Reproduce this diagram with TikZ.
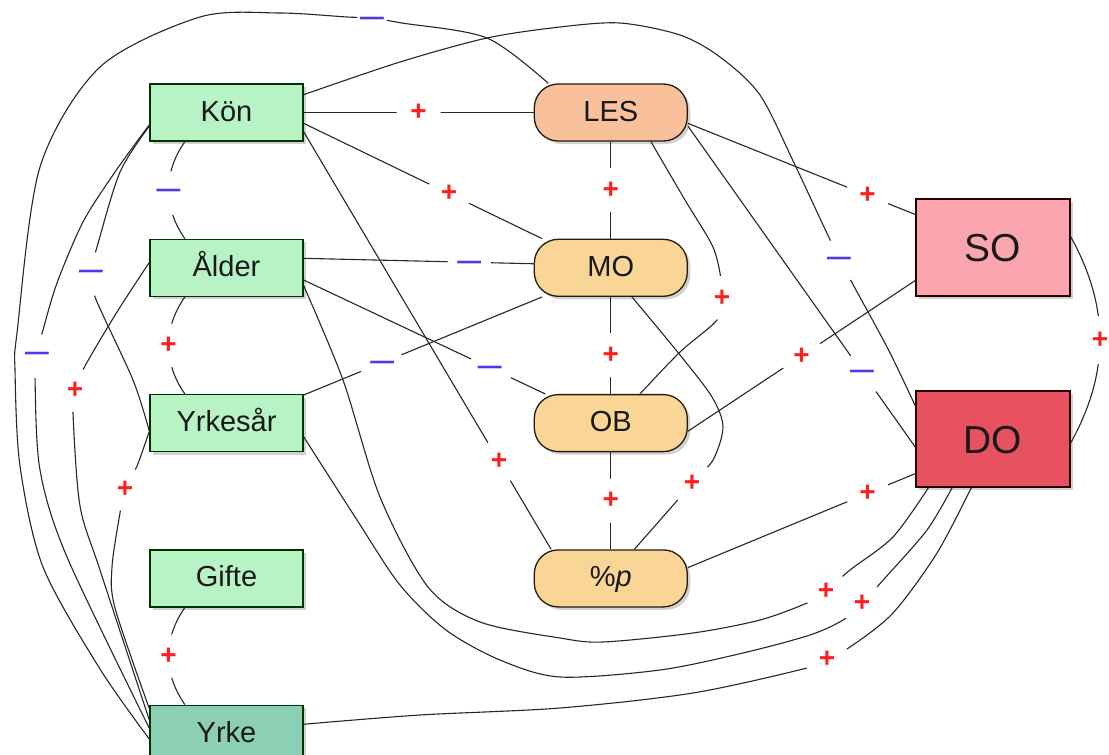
\documentclass[tikz,border=0pt]{standalone}
\usepackage{fontspec}
\usepackage{graphicx}
\setmainfont{Liberation Sans}
\usetikzlibrary{positioning,shadows}
\definecolor{facgreen}{HTML}{B8F3C6}
\definecolor{yrkegreen}{HTML}{8BCFB4}
\definecolor{lesorange}{HTML}{F9C09C}
\definecolor{medorange}{HTML}{F9D696}
\definecolor{sopink}{HTML}{FBA5AE}
\definecolor{dored}{HTML}{E8515F}
\definecolor{signred}{HTML}{FF1E1E}
\definecolor{signblue}{HTML}{4B3CE6}
\newcommand{\negbar}{\scalebox{1.85}[1]{–}}
\tikzset{
    every node/.style={font=\fontsize{29}{32}\selectfont},
    boxshadow/.style={drop shadow={shadow xshift=3pt,shadow yshift=-3pt,opacity=0.3,fill=black!60}},
    factor/.style={rectangle,draw=black!80!green,fill=facgreen,line width=1.3pt,minimum width=153pt,minimum height=57pt,inner sep=0pt,text height=20pt,text depth=3pt,text=black!90,boxshadow},
    mediator/.style={factor,rounded corners=24pt,draw=black!80!brown,fill=medorange},
    outcome/.style={factor,draw=black!85!red,minimum width=154pt,minimum height=97pt,text height=28pt,text depth=0pt,font=\fontsize{39}{42}\selectfont},
    link/.style={draw=black!85,line width=1.1pt},
    possign/.style={circle,fill=white,inner sep=0pt,minimum size=44pt,text=signred,font=\fontsize{28}{28}\bfseries\selectfont},
    negsign/.style={circle,fill=white,inner sep=0pt,minimum size=44pt,text=signblue,font=\fontsize{26}{26}\bfseries\selectfont,yshift=-3pt}
}
\begin{document}
\begin{tikzpicture}[x=1pt,y=-1pt]
    \useasboundingbox (0,0) rectangle (1109,755);
    \node[factor] (kon) at (226.5,112.5) {Kön};
    \node[factor,below=97pt of kon] (alder) {Ålder};
    \node[factor,below=97pt of alder] (yrkesar) {Yrkesår};
    \node[factor,below=97pt of yrkesar] (gifte) {Gifte};
    \node[factor,below=97pt of gifte,fill=yrkegreen] (yrke) {Yrke};
    \node[mediator,right=230pt of kon,fill=lesorange] (les) {LES};
    \node[mediator,below=97pt of les] (mo) {MO};
    \node[mediator,below=97pt of mo] (ob) {OB};
    \node[mediator,below=97pt of ob] (pct) {\%\textit{p}};
    \node[outcome,fill=sopink] (so) at (993,247.5) {SO};
    \node[outcome,fill=dored,minimum height=96pt] (do) at (993,439) {DO};

    \draw[link] (kon) -- node[possign] {+} (les);
    \draw[link] (kon.-8) -- node[possign,pos=0.61] {+} (mo.157);
    \draw[link] (kon.-145) to[bend right=35] node[negsign] {\negbar} (alder.145);
    \draw[link] (kon.-14) -- node[possign,pos=0.79] {+} (pct.154);
    \draw[link] plot[smooth] coordinates {(kon.190) (120,172) (97,247) (91,271) (95,297) (133,380) (yrkesar.186)}
        (91,271) node[negsign] {\negbar};
    \draw[link] plot[smooth] coordinates {(kon.189) (115,172) (83,222) (57,283) (43,330) (37,353) (35,376) (40,470) (67,557) (yrke.176)}
        (37,353) node[negsign] {\negbar};
    \draw[link] plot[smooth] coordinates {(kon.13) (400,62) (487,38) (560,27) (620,23) (680,35) (720,57) (760,95) (795,165) (839,258) (887,347) (do.157)}
        (839,258) node[negsign] {\negbar};

    \draw[link] (alder.7) -- node[negsign,pos=0.72] {\negbar} (mo.177);
    \draw[link] (alder.-9) -- node[negsign,pos=0.77] {\negbar} (ob.156);
    \draw[link] (alder.-145) to[bend right=35] node[possign] {+} (yrkesar.145);
    \draw[link] plot[smooth] coordinates {(alder.176) (117,312) (85,366) (75,390) (73,413) (80,506) (100,570) (yrke.170)}
        (75,390) node[possign] {+};
    \draw[link] plot[smooth] coordinates {(alder.-13) (343,380) (380,497) (428,587) (480,622) (560,638) (603,642) (693,633) (760,620) (807,603) (826,591) (850,570) (893,537) (do.-143)}
        (826,591) node[possign] {+};

    \draw[link] (mo.-157) -- node[negsign,pos=0.67] {\negbar} (yrkesar.20);
    \draw[link] plot[smooth] coordinates {(yrkesar.186) (137,466) (125,489) (120,513) (112,567) (115,608) (yrke.162)}
        (125,489) node[possign] {+};
    \draw[link] plot[smooth] coordinates {(yrkesar.-10) (357,520) (400,585) (446,630) (500,660) (560,677) (660,670) (743,653) (810,635) (843,620) (862,603) (885,578) (927,530) (do.-130)}
        (862,603) node[possign] {+};

    \draw[link] (gifte.-145) to[bend right=35] node[possign] {+} (yrke.145);
    \draw[link] plot[smooth] coordinates {(yrke.7) (420,715) (560,708) (693,693) (807,668) (827,659) (850,647) (893,613) (937,553) (do.-114)}
        (827,659) node[possign] {+};
    \draw[link] plot[smooth] coordinates {(les.155) (487,38) (402,23) (372,18) (347,17) (280,13) (200,17) (100,67) (40,167) (17,333) (15,370) (20,466) (43,567) (100,669) (yrke.184)}
        (372,18) node[negsign,minimum size=30pt] {\negbar};

    \draw[link] (les) -- node[possign] {+} (mo);
    \draw[link] (les.-8) -- node[possign,pos=0.79] {+} (so.157);
    \draw[link] (les.-10) -- node[negsign,pos=0.765] {\negbar} (do.186);
    \draw[link] plot[smooth] coordinates {(les.-36) (685,200) (712,245) (720,273) (722,298) (717,320) (680,352) (ob.45)}
        (722,298) node[possign] {+};
    \draw[link] (mo) -- node[possign,pos=0.6] {+} (ob);
    \draw[link] plot[smooth] coordinates {(mo.-54) (680,355) (712,397) (723,427) (713,460) (692,483) (675,503) (pct.51)}
        (692,483) node[possign] {+};
    \draw[link] (ob) -- node[possign] {+} (pct);
    \draw[link] (ob.-6) -- node[possign] {+} (so.203);
    \draw[link] (pct.8) -- node[possign,pos=0.79] {+} (do.204);
    \draw[link] (so.8) to[bend left=29] node[possign,circle=false,rectangle,minimum width=16pt,minimum height=48pt] {+} (do.-3);
\end{tikzpicture}
\end{document}
